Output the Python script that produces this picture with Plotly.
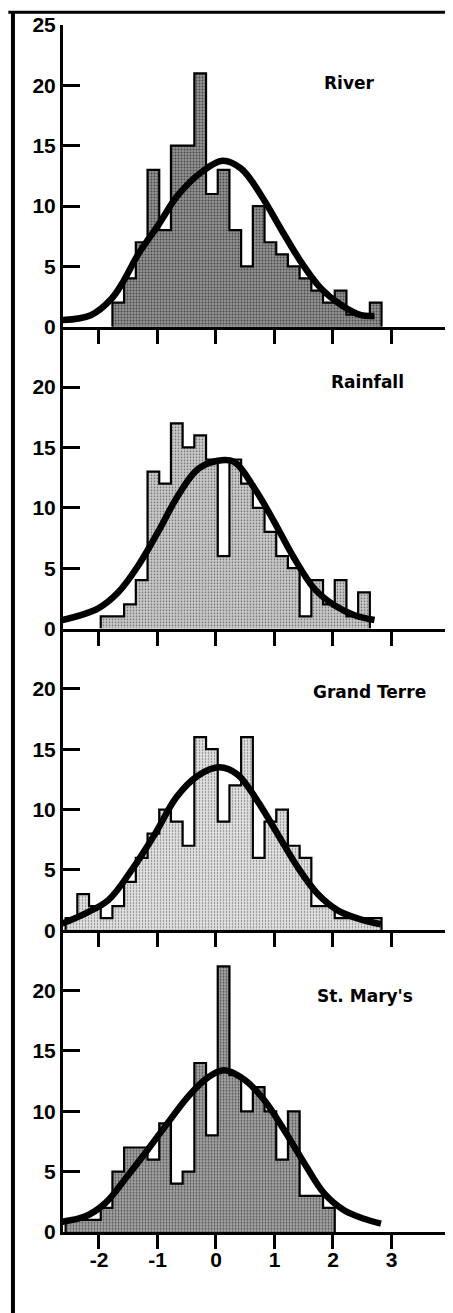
import plotly.graph_objects as go
from plotly.subplots import make_subplots

# ---------------- data ----------------
panel_names = ["River", "Rainfall", "Grand Terre", "St. Mary's"]
bin_width = 0.2

river_first_edge = -1.77
river_counts = [2, 4, 7, 13, 8, 15, 15, 21, 11, 13, 8, 5, 10, 7, 6, 5, 4, 3, 2, 3, 1, 1, 2]

rainfall_first_edge = -1.97
rainfall_counts = [1, 1, 2, 4, 13, 12, 17, 15, 16, 14, 6, 14, 12, 10, 8, 6, 5, 1, 4, 2, 4, 1, 3]

grandterre_first_edge = -2.57
grandterre_counts = [1, 3, 2, 1, 2, 4, 6, 8, 10, 9, 7, 16, 15, 9, 12, 16, 6, 9, 10, 7, 6, 2, 2, 1, 1, 1, 1]

stmarys_first_edge = -2.57
stmarys_counts = [1, 1, 1, 2, 5, 7, 7, 6, 9, 4, 5, 14, 8, 22, 13, 10, 12, 10, 6, 10, 3, 3, 2]

# fitted normal curves
river_curve_x = [-2.63, -2.14, -1.79, -1.59, -1.33, -0.99, -0.65, -0.25, 0.11, 0.43, 0.77, 1.11, 1.45, 1.79, 2.14, 2.48, 2.71]
river_curve_y = [0.55, 0.96, 2.3, 3.7, 6.0, 8.4, 10.9, 12.8, 13.75, 13.1, 10.9, 8.1, 5.4, 3.2, 1.8, 0.96, 0.9]

rainfall_curve_x = [-2.63, -2.02, -1.67, -1.33, -0.99, -0.65, -0.31, 0.03, 0.31, 0.66, 1.00, 1.34, 1.68, 2.03, 2.37, 2.71]
rainfall_curve_y = [0.7, 1.65, 3.0, 5.2, 8.0, 11.0, 13.2, 13.9, 13.8, 11.6, 8.8, 5.8, 3.3, 1.9, 1.1, 0.7]

grandterre_curve_x = [-2.63, -2.23, -1.84, -1.44, -1.04, -0.68, -0.31, 0.06, 0.37, 0.71, 1.05, 1.40, 1.74, 2.08, 2.43, 2.82]
grandterre_curve_y = [0.55, 1.4, 2.5, 5.0, 8.0, 11.0, 12.8, 13.5, 12.9, 10.7, 8.0, 5.2, 3.0, 1.65, 0.97, 0.5]

stmarys_curve_x = [-2.63, -2.23, -1.89, -1.52, -1.17, -0.83, -0.48, -0.14, 0.14, 0.49, 0.83, 1.17, 1.51, 1.85, 2.19, 2.53, 2.82]
stmarys_curve_y = [0.85, 1.3, 2.4, 4.6, 6.8, 9.0, 11.2, 12.8, 13.4, 12.6, 10.9, 8.4, 5.7, 3.2, 1.8, 1.1, 0.7]

x_tick_vals = [-2, -1, 0, 1, 2, 3]
x_tick_text = ["-2", "-1", "0", "1", "2", "3"]
y_tick_vals_top = [0, 5, 10, 15, 20, 25]
y_tick_vals = [0, 5, 10, 15, 20]

# ---------------- styles ----------------
stipple = [
    dict(bg="#939393", size=3, solidity=0.35),
    dict(bg="#cacaca", size=3, solidity=0.25),
    dict(bg="#e0e0e0", size=3, solidity=0.2),
    dict(bg="#a4a4a4", size=3, solidity=0.32),
]
label_pos = [(0.745, 0.808), (0.792, 0.818), (0.795, 0.788), (0.784, 0.781)]

panels = [
    (river_first_edge, river_counts, river_curve_x, river_curve_y),
    (rainfall_first_edge, rainfall_counts, rainfall_curve_x, rainfall_curve_y),
    (grandterre_first_edge, grandterre_counts, grandterre_curve_x, grandterre_curve_y),
    (stmarys_first_edge, stmarys_counts, stmarys_curve_x, stmarys_curve_y),
]

fig = make_subplots(rows=4, cols=1, shared_xaxes=True, vertical_spacing=0)

for i, (first, counts, cx, cy) in enumerate(panels):
    row = i + 1
    edges = [first + k * bin_width for k in range(len(counts) + 1)]
    centers = [e + bin_width / 2 for e in edges[:-1]]
    st = stipple[i]
    fig.add_trace(go.Bar(
        x=centers, y=counts, width=bin_width,
        marker=dict(color=st["bg"], line=dict(width=0),
                    pattern=dict(shape=".", fgcolor="black", bgcolor=st["bg"],
                                 size=st["size"], solidity=st["solidity"])),
        showlegend=False, hoverinfo="skip"), row=row, col=1)
    sx = [edges[0]]
    sy = [0]
    for k, c in enumerate(counts):
        sx += [edges[k], edges[k + 1]]
        sy += [c, c]
    sx.append(edges[-1])
    sy.append(0)
    fig.add_trace(go.Scatter(x=sx, y=sy, mode="lines",
                             line=dict(color="black", width=2.2),
                             showlegend=False, hoverinfo="skip"), row=row, col=1)
    fig.add_trace(go.Scatter(x=cx, y=cy, mode="lines",
                             line=dict(color="black", width=6.5, shape="spline", smoothing=1.0),
                             showlegend=False, hoverinfo="skip"), row=row, col=1)
    fig.add_annotation(text="<b>%s</b>" % panel_names[i],
                       xref="x%s domain" % ("" if row == 1 else row),
                       yref="y%s domain" % ("" if row == 1 else row),
                       x=label_pos[i][0], y=label_pos[i][1], showarrow=False,
                       xanchor="center", yanchor="middle",
                       font=dict(family="DejaVu Sans", size=17, color="black"))

fig.update_xaxes(range=[-2.615, 3.966], showgrid=False, zeroline=False, automargin=False,
                 showline=True, linecolor="black", linewidth=3,
                 ticks="outside", ticklen=14, tickwidth=3, tickcolor="black",
                 tickvals=x_tick_vals, ticktext=x_tick_text, ticklabelstandoff=-7,
                 tickfont=dict(family="Liberation Sans", size=21, color="black", weight="bold"))
fig.update_yaxes(range=[0, 25], showgrid=False, zeroline=False, automargin=False,
                 showline=True, linecolor="black", linewidth=3,
                 ticks="inside", ticklen=17, tickwidth=3, tickcolor="black",
                 tickvals=y_tick_vals,
                 tickfont=dict(family="Liberation Sans", size=21, color="black", weight="bold"))
fig.update_yaxes(tickvals=y_tick_vals_top, row=1, col=1)

# frame lines of the original figure
fig.add_shape(type="line", xref="paper", yref="paper", x0=-0.13, x1=-0.13,
              y0=-0.08, y1=1.011, line=dict(color="black", width=4), layer="above")
fig.add_shape(type="line", xref="paper", yref="paper", x0=-0.142, x1=1.03,
              y0=1.0105, y1=1.0105, line=dict(color="black", width=3), layer="above")

# page body adds an 8px offset, so the figure is sized to fit the 453x1313 window
fig.update_layout(width=445, height=1305, bargap=0,
                  margin=dict(l=55, r=5, t=17, b=81),
                  paper_bgcolor="white", plot_bgcolor="white",
                  showlegend=False)

fig.write_html("out.html")
